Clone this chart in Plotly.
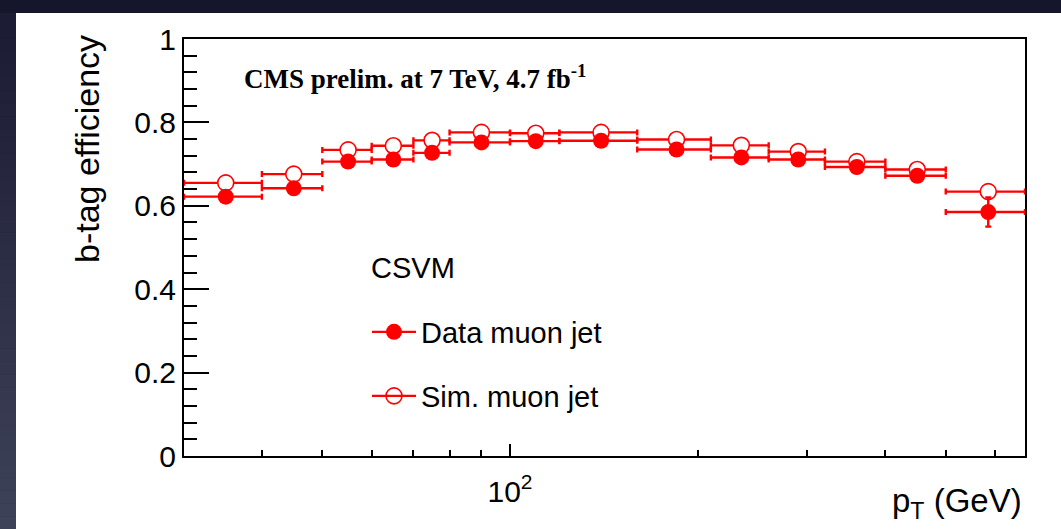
import math
import plotly.graph_objects as go

# pT binning (GeV) and per-bin mean positions
bin_edges = [30, 40, 50, 60, 70, 80, 100, 120, 160, 210, 260, 320, 400, 500, 670]
pt_centers = [35, 45, 55, 65, 75, 90, 110, 140, 185, 235, 290, 360, 450, 585]

# b-tag efficiency, CSV medium working point
eff_data = [0.622, 0.642, 0.706, 0.711, 0.727, 0.752, 0.755, 0.756,
            0.735, 0.716, 0.711, 0.693, 0.672, 0.585]
err_data = [0.006, 0.006, 0.006, 0.006, 0.006, 0.006, 0.006, 0.006,
            0.007, 0.008, 0.009, 0.010, 0.012, 0.035]
eff_sim = [0.655, 0.676, 0.734, 0.744, 0.757, 0.776, 0.774, 0.776,
           0.759, 0.745, 0.730, 0.706, 0.687, 0.634]
err_sim = [0.002, 0.002, 0.002, 0.002, 0.002, 0.002, 0.002, 0.002,
           0.002, 0.003, 0.003, 0.004, 0.005, 0.008]

y_ticks = [0, 0.2, 0.4, 0.6, 0.8, 1.0]
y_ticktext = ["0", "0.2", "0.4", "0.6", "0.8", "1"]
x_ticks = [100]
x_ticktext = ["10<sup>2</sup>"]
x_minor = [40, 50, 60, 70, 80, 90, 200, 300, 400, 500, 600]

RED = "#ff0000"
SANS = "Liberation Sans, Arial, Helvetica, sans-serif"
SERIF = "Liberation Serif, Times New Roman, serif"

x_lo = [c - lo for c, lo in zip(pt_centers, bin_edges[:-1])]
x_hi = [hi - c for c, hi in zip(pt_centers, bin_edges[1:])]

fig = go.Figure()

fig.add_trace(go.Scatter(
    x=pt_centers, y=eff_sim, mode="markers", showlegend=False,
    marker=dict(symbol="circle", size=16, color="white",
                line=dict(color=RED, width=1.6)),
    error_x=dict(type="data", symmetric=False, array=x_hi, arrayminus=x_lo,
                 color=RED, thickness=2.4, width=3),
    error_y=dict(type="data", array=err_sim, color=RED, thickness=2.4, width=3),
))
fig.add_trace(go.Scatter(
    x=pt_centers, y=eff_data, mode="markers", showlegend=False,
    marker=dict(symbol="circle", size=16, color=RED),
    error_x=dict(type="data", symmetric=False, array=x_hi, arrayminus=x_lo,
                 color=RED, thickness=2.4, width=3),
    error_y=dict(type="data", array=err_data, color=RED, thickness=2.4, width=3),
))

# legend entries (line through marker)
fig.add_trace(go.Scatter(
    x=[None], y=[None], mode="lines+markers", name="Data muon jet",
    legend="legend",
    marker=dict(symbol="circle", size=16, color=RED),
    line=dict(color=RED, width=2.4),
))
fig.add_trace(go.Scatter(
    x=[None], y=[None], mode="lines+markers", name="Sim. muon jet",
    legend="legend2",
    marker=dict(symbol="circle-open", size=16, color=RED, line=dict(width=1.6)),
    line=dict(color=RED, width=2.4),
))

# slide background: white panel on a dark frame
W, H = 1061, 529
ML, MR, MT, MB = 184, 36, 39, 73
pw, ph = W - ML - MR, H - MT - MB


def px_to_paper_x(px):
    return (px - ML) / pw


def px_to_paper_y(py):
    return (H - MB - py) / ph


shapes = []
n_strip = 40
top_col = (28, 28, 52)
bot_col = (62, 66, 88)
for i in range(n_strip):
    t = i / (n_strip - 1)
    c = tuple(int(a + (b - a) * t) for a, b in zip(top_col, bot_col))
    y0 = 13 + (H - 13) * i / n_strip
    y1 = 13 + (H - 13) * (i + 1) / n_strip
    shapes.append(dict(type="rect", xref="paper", yref="paper", layer="below",
                       x0=px_to_paper_x(-2), x1=px_to_paper_x(16),
                       y0=px_to_paper_y(y1 + 0.5), y1=px_to_paper_y(y0),
                       fillcolor="rgb(%d,%d,%d)" % c, line=dict(width=0)))
shapes.append(dict(type="rect", xref="paper", yref="paper", layer="below",
                   x0=px_to_paper_x(16), x1=px_to_paper_x(W + 2),
                   y0=px_to_paper_y(H + 2), y1=px_to_paper_y(13),
                   fillcolor="white", line=dict(width=0)))

annotations = [
    dict(text="<b>CMS prelim. at 7 TeV, 4.7 fb<sup>-1</sup></b>",
         xref="paper", yref="paper", x=px_to_paper_x(242), y=px_to_paper_y(77),
         xanchor="left", yanchor="middle", showarrow=False,
         font=dict(family=SERIF, size=27, color="black")),
    dict(text="CSVM", xref="paper", yref="paper",
         x=px_to_paper_x(369), y=px_to_paper_y(268),
         xanchor="left", yanchor="middle", showarrow=False,
         font=dict(family=SANS, size=29, color="black")),
    dict(text="b-tag efficiency", xref="paper", yref="paper", textangle=-90,
         x=px_to_paper_x(87), y=px_to_paper_y(33),
         xanchor="center", yanchor="top", showarrow=False,
         font=dict(family=SANS, size=34, color="black")),
    dict(text="p<sub>T</sub> (GeV)", xref="paper", yref="paper",
         x=px_to_paper_x(1024), y=px_to_paper_y(503),
         xanchor="right", yanchor="middle", showarrow=False,
         font=dict(family=SANS, size=33, color="black")),
]

fig.update_layout(
    width=W, height=H,
    margin=dict(l=ML, r=MR, t=MT, b=MB, pad=0),
    paper_bgcolor="#15152c",
    plot_bgcolor="white",
    font=dict(family=SANS, color="black"),
    shapes=shapes,
    annotations=annotations,
    legend=dict(x=px_to_paper_x(367), y=px_to_paper_y(332),
                xanchor="left", yanchor="middle", itemwidth=44,
                bgcolor="rgba(0,0,0,0)", font=dict(family=SANS, size=29)),
    legend2=dict(x=px_to_paper_x(367), y=px_to_paper_y(396),
                 xanchor="left", yanchor="middle", itemwidth=44,
                 bgcolor="rgba(0,0,0,0)", font=dict(family=SANS, size=29)),
)

fig.update_xaxes(
    type="log", range=[math.log10(bin_edges[0]), math.log10(bin_edges[-1])],
    tickvals=x_ticks, ticktext=x_ticktext,
    ticks="inside", ticklen=12, tickwidth=1.5, tickcolor="black",
    tickfont=dict(family=SANS, size=30, color="black"),
    ticklabelstandoff=8,
    minor=dict(tickvals=x_minor, ticks="inside", ticklen=6,
               tickwidth=1.5, tickcolor="black"),
    showline=True, linecolor="black", linewidth=2, mirror=True,
    showgrid=False, zeroline=False,
)
fig.update_yaxes(
    range=[0, 1], tickvals=y_ticks, ticktext=y_ticktext,
    ticks="inside", ticklen=25, tickwidth=1.5, tickcolor="black",
    tickfont=dict(family=SANS, size=30, color="black"),
    minor=dict(dtick=0.04, tick0=0, ticks="inside", ticklen=13,
               tickwidth=1.5, tickcolor="black"),
    showline=True, linecolor="black", linewidth=2, mirror=True,
    showgrid=False, zeroline=False,
)

fig.write_html("out.html")
